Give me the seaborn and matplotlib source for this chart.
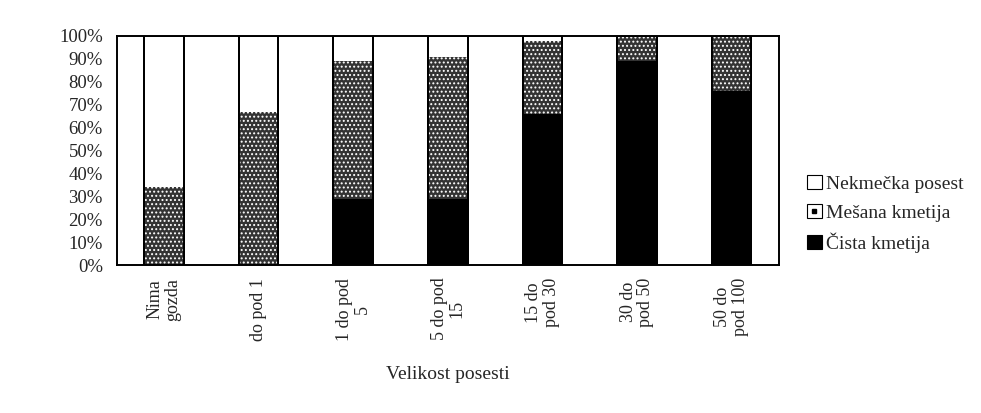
import seaborn as sns
import matplotlib.pyplot as plt
import pandas as pd
from matplotlib.patches import Patch
from matplotlib.lines import Line2D

categories = ["Nima\ngozda", "do pod 1", "1 do pod\n5", "5 do pod\n15",
              "15 do\npod 30", "30 do\npod 50", "50 do\npod 100"]
cista = [0, 0, 29, 29, 66, 89, 76]
mesana = [34, 67, 60, 62, 32, 11, 24]
nekmecka = [66, 33, 11, 9, 2, 0, 0]
y_ticks = [0, 10, 20, 30, 40, 50, 60, 70, 80, 90, 100]
legend_labels = ['Nekmečka posest', 'Mešana kmetija', 'Čista kmetija']

sns.set_style("white")
plt.rcParams['font.family'] = ['Liberation Serif', 'DejaVu Serif']
plt.rcParams['hatch.linewidth'] = 0.9

df = pd.DataFrame({'kat': categories, 'cista': cista, 'mesana': mesana, 'nek': nekmecka})
df['c_m'] = df['cista'] + df['mesana']
df['skupaj'] = df['c_m'] + df['nek']

fig = plt.figure(figsize=(9.81, 4.13), dpi=100)
ax = fig.add_axes([0.119, 0.358, 0.675, 0.555])

w = 0.42
# stacked by overdrawing cumulative totals
sns.barplot(data=df, x='kat', y='skupaj', color='white', width=w,
            edgecolor='black', linewidth=1.4, ax=ax)
sns.barplot(data=df, x='kat', y='c_m', color='#333333', width=w,
            edgecolor='white', linewidth=0, hatch='....', ax=ax)
sns.barplot(data=df, x='kat', y='cista', color='black', width=w,
            linewidth=0, ax=ax)
sns.barplot(data=df, x='kat', y='skupaj', fill=False, width=w,
            edgecolor='black', linewidth=1.4, ax=ax)

ax.set_ylim(0, 100)
ax.set_xlim(-0.5, 6.5)
ax.set_yticks(y_ticks)
ax.set_yticklabels([f"{v}%" for v in y_ticks], fontsize=13.5)
ax.set_xticks(range(len(categories)))
ax.set_xticklabels(categories, rotation=90, fontsize=13, linespacing=1.05)
ax.tick_params(axis='y', length=0, pad=10)
ax.tick_params(axis='x', length=0, pad=9)
ax.set_ylabel("")
ax.set_xlabel("Velikost posesti", fontsize=14, labelpad=18)
for s in ax.spines.values():
    s.set_visible(True)
    s.set_color('black')
    s.set_linewidth(1.4)

box = Patch(facecolor='white', edgecolor='black', linewidth=0.8)
dot = Line2D([], [], marker='s', markersize=2.2, color='black', linestyle='')
handles = [
    box,
    (Patch(facecolor='white', edgecolor='black', linewidth=0.8), dot),
    Patch(facecolor='black', edgecolor='black', linewidth=0.8),
]
fig.legend(handles=handles, labels=legend_labels, loc='center left',
           bbox_to_anchor=(0.805, 0.482), frameon=False, fontsize=14,
           handlelength=0.75, handleheight=0.75, handletextpad=0.2,
           labelspacing=0.55)

fig.savefig("out.png", dpi=100, facecolor='white')
